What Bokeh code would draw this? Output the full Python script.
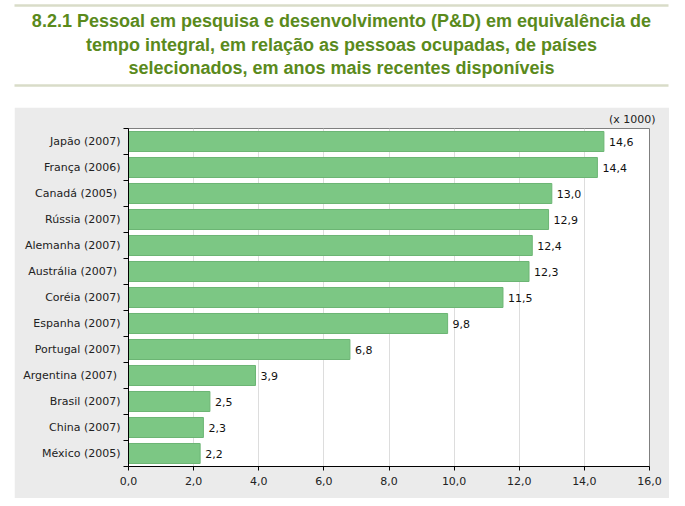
from bokeh.plotting import figure
from bokeh.layouts import column
from bokeh.models import Range1d, FixedTicker, Title, ColumnDataSource
from bokeh.core.properties import value
from bokeh.embed import file_html
from bokeh.resources import INLINE

title_lines = [
    "8.2.1 Pessoal em pesquisa e desenvolvimento (P&D) em equivalência de",
    "tempo integral, em relação as pessoas ocupadas, de países",
    "selecionados, em anos mais recentes disponíveis",
]
countries = ["Japão (2007)", "França (2006)", "Canadá  (2005)", "Rússia (2007)",
             "Alemanha (2007)", "Austrália  (2007)", "Coréia (2007)", "Espanha (2007)",
             "Portugal (2007)", "Argentina  (2007)", "Brasil (2007)", "China (2007)",
             "México (2005)"]
values = [14.6, 14.4, 13.0, 12.9, 12.4, 12.3, 11.5, 9.8, 6.8, 3.9, 2.5, 2.3, 2.2]
x_ticks = [0, 2, 4, 6, 8, 10, 12, 14, 16]
x_tick_labels = ["0,0", "2,0", "4,0", "6,0", "8,0", "10,0", "12,0", "14,0", "16,0"]
unit_note = "(x 1000)"

FONT = "DejaVu Sans"
n = len(countries)
XMAX = x_ticks[-1]

# ---- title block ----
TW, TH = 677, 107
t = figure(width=TW, height=TH, x_range=Range1d(0, TW), y_range=Range1d(TH, 0),
           output_backend="svg", toolbar_location=None, min_border=0)
t.frame_align = False
t.axis.visible = False
t.grid.visible = False
t.outline_line_color = None
t.border_fill_color = "white"
t.background_fill_color = "white"
t.segment(x0=[14, 14], y0=[5, 85], x1=[668, 668], y1=[5, 85],
          line_color="#d9dcc8", line_width=2.5)
t.text(x=[341, 341, 341], y=[20, 44, 67], text=title_lines,
       text_font=value("Liberation Sans"), text_font_style="bold", text_font_size="18px",
       text_color="#5a8a1c", text_align="center", text_baseline="middle")

# ---- chart panel ----
PX0, PX1, PY0, PY1 = 14, 669, 107, 498      # grey panel in page pixels
FL, FR, FT, FB = 128, 649, 128, 466         # plot frame in page pixels

ys = [i + 0.5 for i in range(n)]
src = ColumnDataSource(dict(y=ys, v=values,
                            lab=[f"{v:.1f}".replace(".", ",") for v in values]))

p = figure(width=PX1 - PX0, height=PY1 - PY0, x_range=Range1d(0, XMAX), y_range=Range1d(n, 0),
           output_backend="svg", toolbar_location=None,
           min_border_left=FL - PX0, min_border_right=PX1 - FR,
           min_border_top=FT - PY0, min_border_bottom=PY1 - FB)
p.frame_align = False
p.margin = (0, 0, 0, PX0)
p.border_fill_color = "#ebebeb"
p.background_fill_color = "white"
p.outline_line_color = "#7f7f7f"

p.hbar(y="y", right="v", left=0, height=0.77, source=src,
       fill_color="#7cc784", line_color="#6cb574", line_width=1)
p.text(x="v", y="y", text="lab", source=src, x_offset=5,
       text_font=value(FONT), text_font_size="11px", text_color="#111111",
       text_baseline="middle", text_align="left")

# x axis
xa = p.xaxis[0]
xa.ticker = FixedTicker(ticks=x_ticks)
xa.major_label_overrides = {tk: lb for tk, lb in zip(x_ticks, x_tick_labels)}
xa.axis_line_color = "black"
xa.major_tick_line_color = "black"
xa.major_tick_out = 4
xa.major_tick_in = 0
xa.minor_tick_line_color = None
xa.major_label_text_font = FONT
xa.major_label_text_font_size = "11px"
xa.major_label_text_color = "#222222"
xa.major_label_standoff = 6

# y axis: labels at category centres, ticks on category boundaries
ya = p.yaxis[0]
ya.ticker = FixedTicker(ticks=ys, minor_ticks=list(range(n + 1)))
ya.major_label_overrides = {y: c for y, c in zip(ys, countries)}
ya.axis_line_color = "black"
ya.major_tick_line_color = None
ya.major_tick_out = 0
ya.major_tick_in = 0
ya.minor_tick_line_color = "black"
ya.minor_tick_out = 5
ya.minor_tick_in = 0
ya.major_label_text_font = FONT
ya.major_label_text_font_size = "11px"
ya.major_label_text_color = "#222222"
ya.major_label_standoff = 3

p.xgrid.grid_line_color = "#dddddd"
p.xgrid.ticker = FixedTicker(ticks=x_ticks)
p.ygrid.grid_line_color = None

p.add_layout(Title(text=unit_note, align="right", offset=-6, standoff=5,
                   text_font=FONT, text_font_size="11px", text_font_style="normal",
                   text_color="#222222"), "above")

layout = column(t, p, spacing=0)
open("out.html", "w").write(file_html(layout, INLINE))
